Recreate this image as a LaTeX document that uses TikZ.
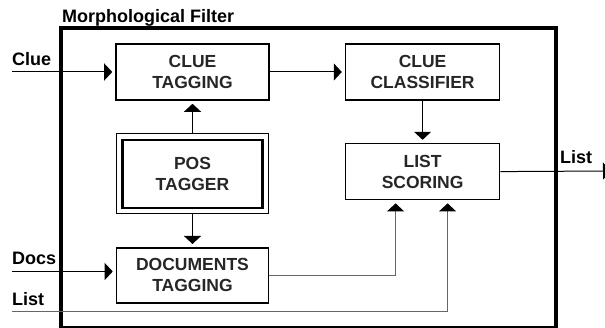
\documentclass[tikz,border=0pt]{standalone}
\usepackage{fontspec}
\setmainfont{Liberation Sans}
\usetikzlibrary{arrows.meta,positioning,fit}

\begin{document}
\begin{tikzpicture}[
    x=1pt, y=1pt,
    node distance = 38pt,
    box/.style={rectangle,draw,line width=1.6pt,minimum width=153pt,minimum height=56pt,align=center,text=black!85,font=\fontsize{17.5}{21}\selectfont\bfseries},
    posbox/.style={box,line width=2.2pt,minimum width=140pt,minimum height=68pt},
    outerbox/.style={rectangle,draw,line width=1pt,inner sep=5pt},
    filterbox/.style={rectangle,draw,line width=3.3pt,minimum width=495pt,minimum height=300pt,inner sep=0pt},
    lbl/.style={inner sep=0pt,font=\fontsize{18}{21}\selectfont\bfseries},
    arrow/.style={-{Triangle[width=17pt,length=8pt]},line width=1pt,shorten >=3pt},
    grayarrow/.style={arrow,draw=black!60,-{Triangle[width=17pt,length=8pt,color=black]}}
]
\useasboundingbox (0,0) rectangle (605,328);

% Filter frame
\node[filterbox] (filter) at (308.5,150) {};
\node[lbl, anchor=base west] (title) at ([xshift=2.5pt,yshift=3.5pt]filter.north west) {Morphological Filter};

% Clue path
\node[box] (cluetag) at (192.5,256) {CLUE\\TAGGING};
\node[box, minimum width=154pt, right=75pt of cluetag] (classifier) {CLUE\\CLASSIFIER};
\node[box, minimum width=154pt, below=42pt of classifier] (scoring) {LIST\\SCORING};

% Tagger and documents
\node[posbox, below=38pt of cluetag] (pos) {POS\\TAGGER};
\node[outerbox, fit=(pos)] (posframe) {};
\node[box, minimum width=152pt, minimum height=55pt, below=38pt of pos] (doctag) {DOCUMENTS\\TAGGING};

% Free ends
\coordinate (cluein) at (12,256);
\coordinate (docsin) at (12,56.5);
\coordinate (listin) at (12,16);
\coordinate (listout) at (611,157);

% Labels
\node[lbl, anchor=base west] (cluelbl) at ([yshift=6pt]cluein) {Clue};
\node[lbl, anchor=base west] (docslbl) at ([yshift=7pt]docsin) {Docs};
\node[lbl, anchor=base west] (listinlbl) at ([yshift=6pt]listin) {List};
\node[lbl, anchor=base west] (listoutlbl) at (560,164) {List};

% Connections
\draw[arrow] (cluein) -- (cluetag.west);
\draw[arrow] (cluetag) -- (classifier);
\draw[arrow] (posframe.north) -- (cluetag.south);
\draw[arrow] (posframe.south) -- (doctag.north);
\draw[arrow] (classifier) -- (scoring);
\draw[arrow] (docsin) -- (docsin -| doctag.west);
\draw[grayarrow] (doctag.east) -| ([xshift=-27pt]scoring.south);
\draw[grayarrow] (listin) -| ([xshift=25pt]scoring.south);
\draw[arrow,shorten >=0pt] (scoring.east) -- (listout);

\end{tikzpicture}
\end{document}
